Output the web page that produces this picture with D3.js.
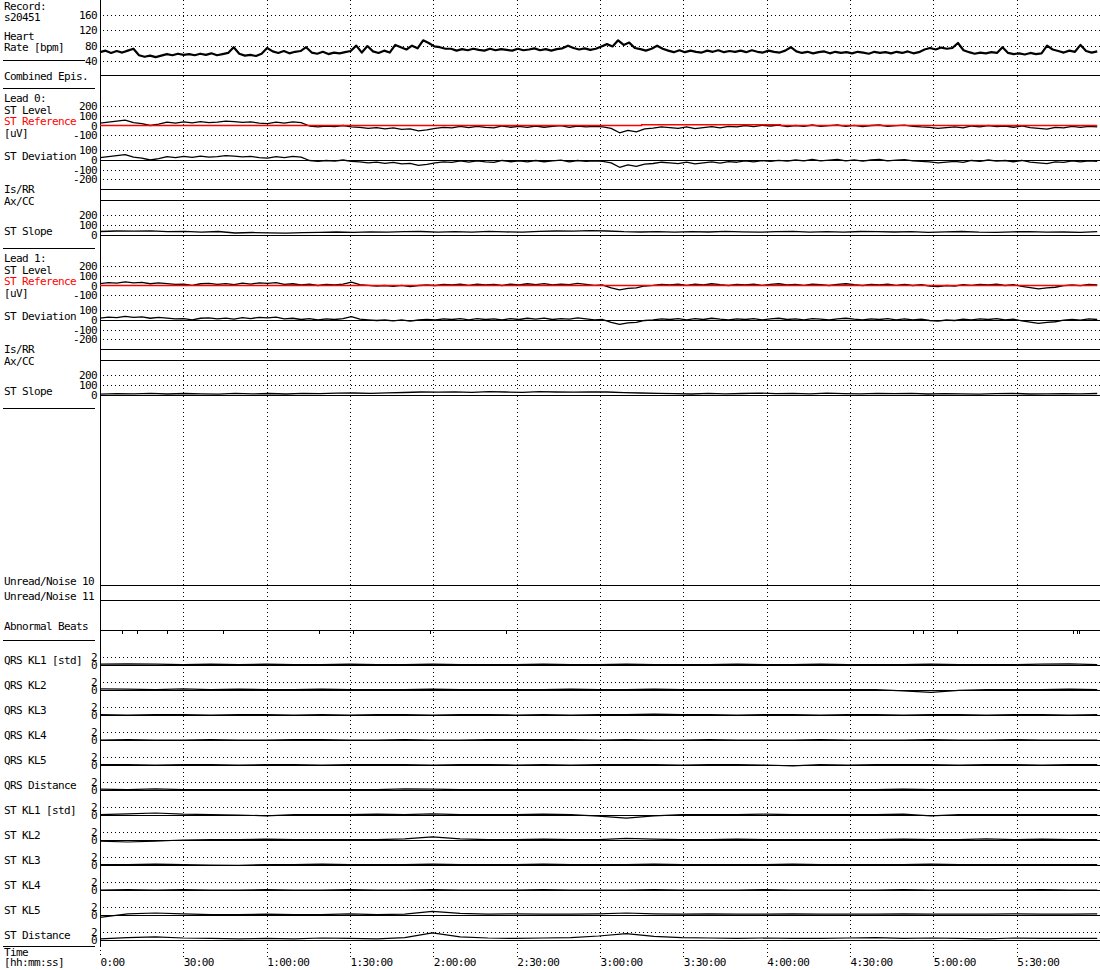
<!DOCTYPE html>
<html><head><meta charset="utf-8">
<script src="https://cdn.jsdelivr.net/npm/d3@7"></script>
<style>
html,body{margin:0;padding:0;background:#fff;}
svg{display:block;}
text{font-family:"DejaVu Sans Mono",monospace;font-size:11px;letter-spacing:-0.62px;fill:#000;}
</style></head><body><svg id="c" width="1100" height="970"></svg>
<script>
// ---------------- DATA ----------------
const recordMinutes = 359;
const timeTicks = [0,30,60,90,120,150,180,210,240,270,300,330];
const hrTicks = [40,80,120,160];
const stLevelTicks = [-100,0,100,200];
const stDevTicks = [-200,-100,0,100];
const stSlopeTicks = [0,100,200];
const klTicks = [0,2];

const heartRate = [63,67,61,66,62,67,72,55,51,54,50,54,58,55,59,56,58,55,59,56,60,55,58,61,76,59,54,56,53,59,
74,65,61,66,60,64,66,76,62,59,64,58,62,60,63,66,80,62,79,65,61,67,62,82,76,70,80,73,94,87,78,76,72,
72,67,71,68,72,69,67,72,68,71,69,67,72,68,70,73,68,71,67,71,73,80,74,70,73,69,72,78,84,78,94,82,88,74,
71,67,72,80,72,67,63,68,63,67,64,62,67,64,68,63,66,64,67,63,68,64,62,67,64,62,67,76,
65,61,64,60,63,65,60,64,61,63,60,64,62,59,64,61,63,60,64,61,65,60,63,70,74,70,75,72,74,87,68,
63,59,62,60,63,61,76,61,58,60,57,61,58,60,80,70,66,62,67,64,82,66,62,65];

const lead0StLevel = [25,35,45,55,30,20,0,15,35,25, 38,28,40,30,35,45,40,32,38,25,
20,35,25,38,30,-5,-15,-5,-12,0, -15,-20,-30,-22,-35,-25,-40,-35,-55,-45,
-30,-20,-25,-10,-22,-8,-20,-25,-5,-18, -8,-20,-5,-18,-10,-2,-20,-5,-15,-8,
-15,-30,-75,-50,-65,-35,-28,-15,-22,-30, -15,-32,-22,-12,-25,-8,-15,0,-12,2,
-5,5,-12,0,-8,5,-10,-2,5,-8, 2,-12,0,5,-10,-2,3,-8,-15,-20,
-30,-22,-15,-25,-5,-15,0,-12,-5,-18, -5,-22,-30,-38,-20,-25,-10,-20,-8,-15];
const lead0RefTimes = [0,195,245,359];
const lead0RefValues = [0,8,0,0];
const lead0StSlope = [35,40,38,42,33,36,28,35,20,25,22,18,24,27,30,26,32,28,34,35,
28,34,29,36,31,28,36,40,38,44,40,33,30,34,28,33,30,36,31,28,34,37,29,33,
28,35,33,30,34,27,31,35,29,27,32,34,28,30,27,33];

const lead1StLevel = [20,30,25,38,28,32,18,28,20,12, 15,2,18,22,12,20,10,25,15,28,
22,30,12,18,5,15,0,12,5,15, 35,8,2,-5,0,-10,2,-12,0,5,
0,12,5,15,2,15,5,12,0,15, 5,18,10,20,5,15,8,22,12,2,
5,-25,-45,-30,-25,-5,2,12,5,15, 2,15,5,18,8,0,12,5,15,2,
12,18,5,12,2,15,8,0,12,18, 8,0,12,5,15,2,12,0,10,-5,
-12,0,-5,10,2,12,5,15,0,8, -8,-22,-35,-25,-18,-2,5,-2,12,5];
const lead1RefTimes = [0,359];
const lead1RefValues = [0,0];
const lead1StSlope = [8,14,12,16,10,15,12,8,16,11, 15,10,17,14,18,20,16,22,25,30,
28,32,27,34,30,26,33,30,28,32, 30,24,20,16,14,10,16,12,15,19,
13,16,12,18,14,11,17,13,16,10, 14,11,8,13,16,10,12,14,11,15];

const abnormalBeatTimes = [7.8,13.2,24,44.1,78.8,91.1,118.8,146.2,292.8,296.4,308.4,350.2,351.6,352.3];

const klNames = ["QRS KL1 [std]","QRS KL2","QRS KL3","QRS KL4","QRS KL5","QRS Distance",
                 "ST KL1 [std]","ST KL2","ST KL3","ST KL4","ST KL5","ST Distance"];
const qrsKL1 = [0.2,0.3,0.2,0.1,0.2,0.1,0.2,0.1,0.1,0.2,0.1,0.1,0.2,0.1,0.1,0.1,0.2,0.1,0.1,0.2,0.1,0.1,0.1,0.2,0.1,0.1,0.2,0.1,0.1,0.1,0.2,0.1,0.1,0.1,0.2,0.3,0.1];
const qrsKL2 = [0.3,0.2,0.1,0.3,0.1,0.2,0.1,0.1,0.2,0.1,0.1,0.1,0.2,0.1,0.1,0.1,0.1,0.2,0.1,0.1,0.2,0.1,0.1,0.1,0.1,0.1,0.1,0.1,0.1,-0.2,-0.6,-0.1,0.1,0.1,0.1,0.2,0.1];
const qrsKL3 = [0.1,0.0,0.1,0.1,0.0,0.1,0.1,0.0,0.1,0.0,0.1,0.1,0.0,0.1,0.1,0.0,0.1,0.0,0.1,0.1,0.2,0.1,0.1,0.0,0.1,0.1,0.0,0.1,0.1,0.0,0.1,0.1,0.0,0.1,0.1,0.0,0.1];
const qrsKL4 = [0.0,0.1,0.0,0.0,0.1,0.0,0.0,0.1,0.1,0.0,0.0,0.1,0.0,0.0,0.1,0.1,0.1,0.1,0.0,0.1,0.0,0.0,0.1,0.0,0.0,0.0,0.1,0.0,0.0,0.0,0.1,0.0,0.0,0.1,0.0,0.0,0.0];
const qrsKL5 = [0.1,0.1,0.0,0.1,0.1,0.0,0.1,0.1,0.0,0.1,0.1,0.1,0.0,0.1,0.1,0.0,0.1,0.0,0.1,0.1,0.1,0.0,0.1,0.1,0.0,-0.2,0.1,0.0,0.1,0.1,0.1,0.0,0.1,0.1,0.0,0.1,0.1];
const qrsDistance = [0.2,0.1,0.3,0.1,0.1,0.1,0.1,0.1,0.1,0.1,0.1,0.3,0.2,0.1,0.1,0.1,0.1,0.1,0.1,0.1,0.1,0.1,0.1,0.1,0.1,0.1,0.1,0.1,0.1,0.2,0.1,0.1,0.1,0.1,0.1,0.1,0.1];
const stKL1 = [0.1,0.3,0.5,0.2,0.1,0.0,-0.2,0.1,0.1,0.1,0.2,0.1,0.3,0.1,0.1,0.1,0.2,0.1,-0.3,-0.8,-0.2,0.1,0.1,0.1,0.2,0.1,0.1,0.1,0.1,0.2,-0.2,0.1,0.1,0.1,0.1,0.1,0.1];
const stKL2 = [-0.3,-0.5,-0.3,0.0,0.1,0.1,0.2,0.1,0.1,0.1,0.1,0.3,0.8,0.3,0.1,0.1,0.2,0.1,0.1,0.4,0.2,0.1,0.1,0.2,0.1,0.1,0.1,0.1,0.1,0.2,0.1,0.1,0.3,0.1,0.2,0.1,0.1];
const stKL3 = [0.1,0.1,0.2,0.1,0.0,-0.1,0.1,0.1,0.2,0.1,0.1,0.1,0.2,0.1,0.1,0.1,0.2,0.1,0.1,0.1,0.2,0.1,0.1,0.1,0.1,0.2,0.1,0.1,0.1,0.1,0.2,0.1,0.1,0.1,0.1,0.1,0.1];
const stKL4 = [0.0,0.1,0.0,0.1,0.0,0.0,0.1,0.0,0.0,0.1,0.0,0.0,0.1,0.0,0.0,0.0,0.1,0.0,0.0,0.0,0.1,0.0,0.0,0.0,0.1,0.0,0.0,0.0,0.0,0.1,0.0,0.0,0.0,0.0,0.1,0.0,0.0];
const stKL5 = [-0.6,0.3,0.5,0.3,0.1,0.1,0.2,0.1,0.1,0.3,0.1,0.2,0.9,0.4,0.2,0.3,0.2,0.2,0.3,0.5,0.3,0.2,0.3,0.2,0.2,0.3,0.2,0.2,0.2,0.3,0.2,0.2,0.2,0.3,0.2,0.2,0.3];
const stDistance = [0.3,0.6,0.8,0.5,0.4,0.3,0.4,0.3,0.5,0.4,0.3,0.6,1.8,0.8,0.5,0.4,0.5,0.6,1.0,1.6,0.9,0.6,0.5,0.4,0.5,0.4,0.4,0.5,0.6,0.4,0.5,0.4,0.3,0.5,0.4,0.4,0.4];
const klSeries = [qrsKL1,qrsKL2,qrsKL3,qrsKL4,qrsKL5,qrsDistance,stKL1,stKL2,stKL3,stKL4,stKL5,stDistance];

const headerLabels = ["Record:","s20451","Heart","Rate [bpm]"];
const leadLabels = [["Lead 0:","ST Level","ST Reference","[uV]","ST Deviation","Is/RR","Ax/CC","ST Slope"],
                    ["Lead 1:","ST Level","ST Reference","[uV]","ST Deviation","Is/RR","Ax/CC","ST Slope"]];

// ---------------- DRAW ----------------
const svg = d3.select("#c");
svg.append("rect").attr("width",1100).attr("height",970).attr("fill","#fff");
const X0 = 100, X1 = 1100;
const x = d3.scaleLinear().domain([0,360]).range([X0,X1]);
const px = v => Math.round(v) + 0.5;

const gGrid = svg.append("g").attr("shape-rendering","crispEdges");
const gAxes = svg.append("g").attr("shape-rendering","crispEdges");
const gData = svg.append("g");
const gRef = svg.append("g");
const gText = svg.append("g");

function hLine(y, x0, x1, color, w) {
  gAxes.append("line").attr("x1",x0).attr("x2",x1).attr("y1",px(y)).attr("y2",px(y))
    .attr("stroke",color||"#000").attr("stroke-width",w||1);
}
function hDot(y) {
  gGrid.append("line").attr("x1",103).attr("x2",X1).attr("y1",px(y)).attr("y2",px(y))
    .attr("stroke","#000").attr("stroke-dasharray","1,3");
}
function label(txt, xx, y, color) {
  const t = gText.append("text").attr("x",xx).attr("y",y).text(txt);
  if (color) t.style("fill",color);
  return t;
}
function yTicks(scale, ticks) {
  const g = gText.append("g").attr("transform","translate(97,0)")
    .call(d3.axisLeft(scale).tickValues(ticks).tickSize(0).tickPadding(0).tickFormat(d => String(d)));
  g.select(".domain").remove();
  g.attr("font-family",null).attr("font-size",null);
}
function trace(values, yScale, w, color) {
  const n = values.length;
  const line = d3.line().x((d,i) => x(i*recordMinutes/(n-1))).y(d => yScale(d));
  gData.append("path").datum(values).attr("d",line).attr("fill","none")
    .attr("stroke",color||"#000").attr("stroke-width",w).attr("stroke-linejoin","round");
}
function refAt(times, vals, t) {
  let v = vals[0];
  for (let i=0;i<times.length;i++) if (times[i] <= t) v = vals[i];
  return v;
}

// vertical grid + left axis
timeTicks.filter(t => t > 0).forEach(t => {
  gGrid.append("line").attr("x1",px(x(t))).attr("x2",px(x(t))).attr("y1",0).attr("y2",958)
    .attr("stroke","#000").attr("stroke-dasharray","1,3");
});
gGrid.append("line").attr("x1",px(X0)).attr("x2",px(X0)).attr("y1",946).attr("y2",958)
  .attr("stroke","#000").attr("stroke-dasharray","1,3");
gAxes.append("line").attr("x1",px(X0)).attr("x2",px(X0)).attr("y1",0).attr("y2",946).attr("stroke","#000");

// left column separators
[[60,85],[88,95],[248,95],[408,95],[640,95],[946,95]].forEach(([y,xe]) => hLine(y,3,xe));

// Header / HR
label(headerLabels[0],4,10); label(headerLabels[1],4,21);
label(headerLabels[2],4,40); label(headerLabels[3],4,51);
const yHR = d3.scaleLinear().domain([40,160]).range([61,15]);
hrTicks.forEach(v => hDot(yHR(v)));
trace(heartRate, yHR, 2.2);
yTicks(yHR, hrTicks);
hLine(75, X0, X1);
label("Combined Epis.",4,80);

// Leads
function drawLead(base, names, level, refT, refV, slope) {
  const yL = d3.scaleLinear().domain([0,100]).range([base+37.5, base+27.8]);
  const yD = d3.scaleLinear().domain([0,100]).range([base+72, base+62.3]);
  const yS = d3.scaleLinear().domain([0,100]).range([base+147, base+137]);
  [200,100,-100].forEach(v => hDot(yL(v)));
  [100,-100,-200].forEach(v => hDot(yD(v)));
  [200,100].forEach(v => hDot(yS(v)));
  hLine(yD(0), X0, X1); hLine(base+101, X0, X1); hLine(base+112, X0, X1); hLine(yS(0), X0, X1);
  const n = level.length;
  const dev = level.map((v,i) => v - refAt(refT, refV, i*recordMinutes/(n-1)));
  trace(level, yL, 1.3);
  trace(dev, yD, 1.3);
  trace(slope, yS, 1.3);
  const refLine = d3.line().curve(d3.curveStepAfter).x(d => x(d[0])).y(d => yL(d[1]));
  gRef.append("path").datum(refT.map((t,i) => [t, refV[i]])).attr("d", refLine)
    .attr("fill","none").attr("stroke","#ff0000").attr("stroke-width",1.4);
  yTicks(yL, stLevelTicks); yTicks(yD, stDevTicks); yTicks(yS, stSlopeTicks);
  const bl = [14, 25.5, 37, 48.5, 72, 105, 117, 147];
  names.forEach((s,i) => label(s, 4, base+bl[i], i === 2 ? "#ff0000" : null));
}
drawLead(88, leadLabels[0], lead0StLevel, lead0RefTimes, lead0RefValues, lead0StSlope);
drawLead(248, leadLabels[1], lead1StLevel, lead1RefTimes, lead1RefValues, lead1StSlope);

// Unread / abnormal
hLine(585, X0, X1); hLine(600, X0, X1); hLine(630, X0, X1);
label("Unread/Noise 10",4,585); label("Unread/Noise 11",4,600); label("Abnormal Beats",4,630);
abnormalBeatTimes.forEach(t => {
  gAxes.append("line").attr("x1",px(x(t))).attr("x2",px(x(t))).attr("y1",631).attr("y2",634).attr("stroke","#000");
});

// KL rows
klNames.forEach((nm,k) => {
  const z = 665 + 25*k;
  const yK = d3.scaleLinear().domain([0,2]).range([z, z-8]);
  hDot(yK(2));
  hLine(z, X0, X1);
  trace(klSeries[k], yK, 1.2);
  yTicks(yK, klTicks);
  label(nm, 4, z-1);
});

// Time axis
label("Time",4,956); label("[hh:mm:ss]",4,966);
const fmt = m => { const h = Math.floor(m/60), mm = m % 60;
  return h ? `${h}:${String(mm).padStart(2,"0")}:00` : `${mm}:00`; };
const gT = gText.append("g").attr("transform","translate(0,966)")
  .call(d3.axisBottom(x).tickValues(timeTicks).tickFormat(fmt).tickSize(0).tickPadding(0));
gT.select(".domain").remove();
gT.attr("font-family",null).attr("font-size",null);
gT.selectAll("text").attr("y",0).attr("dy",null).attr("text-anchor","start");
</script></body></html>
